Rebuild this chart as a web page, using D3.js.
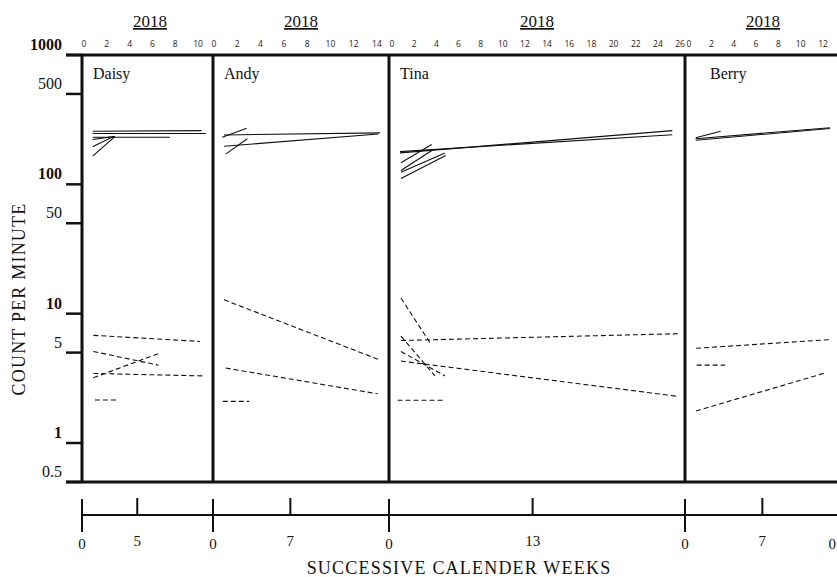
<!DOCTYPE html>
<html><head><meta charset="utf-8">
<script src="https://cdn.jsdelivr.net/npm/d3@7"></script>
<style>body{margin:0;background:#fff}svg{display:block}</style>
</head><body>
<svg id="c" width="837" height="577"></svg>
<script>
// ---------- DATA ----------
const panelNames = ["Daisy", "Andy", "Tina", "Berry"];
const yearLabels = ["2018", "2018", "2018", "2018"];
const topTicks = [
  [0, 2, 4, 6, 8, 10],
  [0, 2, 4, 6, 8, 10, 12, 14],
  [0, 2, 4, 6, 8, 10, 12, 14, 16, 18, 20, 22, 24, 26],
  [0, 2, 4, 6, 8, 10, 12]
];
const bottomMidTicks = [5, 7, 13, 7];
const yTickValues = [1000, 500, 100, 50, 10, 5, 1, 0.5];
const yTickLabels = ["1000", "500", "100", "50", "10", "5", "1", "0.5"];
const yTickBold = [true, false, true, false, true, false, true, false];

// segments: [[week1, count1], [week2, count2]]
const solidDaisy = [
  [[0.76, 257], [10.32, 260]],
  [[0.76, 247], [10.68, 247]],
  [[0.76, 231], [7.54, 231]],
  [[0.76, 222], [2.72, 235]],
  [[0.76, 195], [2.54, 233]],
  [[0.76, 165], [2.63, 231]]
];
const dashedDaisy = [
  [[0.82, 6.8], [10.18, 6.1]],
  [[0.82, 5.1], [6.52, 4.0]],
  [[0.82, 3.2], [6.52, 4.9]],
  [[0.82, 3.45], [10.61, 3.3]],
  [[0.96, 2.15], [2.87, 2.15]]
];
const solidAndy = [
  [[0.71, 231], [2.81, 271]],
  [[0.86, 241], [14.26, 250]],
  [[0.86, 197], [14.12, 245]],
  [[1.03, 172], [2.86, 225]]
];
const dashedAndy = [
  [[0.86, 12.8], [14.2, 4.4]],
  [[1.0, 3.8], [14.06, 2.4]],
  [[0.75, 2.1], [3.03, 2.1]]
];
const solidTina = [
  [[0.72, 175], [25.3, 260]],
  [[0.72, 179], [25.3, 242]],
  [[0.81, 147], [3.58, 203]],
  [[0.81, 128], [3.73, 186]],
  [[0.81, 124], [4.78, 175]],
  [[0.81, 111], [4.85, 167]]
];
const dashedTina = [
  [[0.81, 13.2], [3.52, 5.8]],
  [[0.81, 6.2], [25.84, 7.0]],
  [[0.81, 6.7], [3.88, 3.3]],
  [[0.81, 5.1], [4.78, 3.3]],
  [[0.81, 4.3], [25.7, 2.3]],
  [[0.51, 2.14], [4.72, 2.14]]
];
const solidBerry = [
  [[0.6, 229], [2.84, 257]],
  [[0.6, 225], [12.62, 274]],
  [[0.6, 219], [12.62, 270]]
];
const dashedBerry = [
  [[0.63, 5.4], [12.62, 6.3]],
  [[0.69, 4.0], [3.22, 4.0]],
  [[0.63, 1.77], [12.09, 3.46]]
];
const solidSets = [solidDaisy, solidAndy, solidTina, solidBerry];
const dashedSets = [dashedDaisy, dashedAndy, dashedTina, dashedBerry];

// ---------- LAYOUT ----------
const W = 837, H = 577;
const axisX = 82, topY = 55, botY = 482;
const panelBorders = [82, 213, 389, 685, 840];
const topOrigin = [84, 214, 392, 689];
const topPPU = [11.4, 11.64, 11.08, 11.17];
const botPPU = 11.05;
const serif = "'Liberation Serif','Times New Roman',serif";

const svg = d3.select("#c");
const y = d3.scaleLog().domain([1, 1000]).range([443, 55]);

// y axis ticks
const yg = svg.append("g");
yTickValues.forEach((v, i) => {
  const yy = v === 0.5 ? botY : y(v);
  yg.append("line").attr("x1", 66).attr("x2", axisX).attr("y1", yy).attr("y2", yy)
    .attr("stroke", "#111").attr("stroke-width", 2.5);
  yg.append("text").attr("x", 62).attr("y", yy - 5).attr("text-anchor", "end")
    .attr("font-family", serif).attr("font-size", 16)
    .attr("font-weight", yTickBold[i] ? "bold" : "normal").attr("fill", "#111")
    .text(yTickLabels[i]);
});
svg.append("text").attr("transform", `translate(25,299) rotate(-90)`)
  .attr("text-anchor", "middle").attr("font-family", serif).attr("font-size", 18)
  .attr("letter-spacing", 1.2).attr("fill", "#111").text("COUNT PER MINUTE");

// panels
panelNames.forEach((name, p) => {
  const x0 = topOrigin[p], ppu = topPPU[p];
  const right = panelBorders[p + 1];
  const xs = d3.scaleLinear().domain([0, 1]).range([x0, x0 + ppu]);
  // top tick labels
  topTicks[p].forEach(t => {
    svg.append("text").attr("x", xs(t)).attr("y", 47).attr("text-anchor", "middle")
      .attr("font-family", "'Open Sans',sans-serif").attr("font-size", 8.5).attr("fill", "#222")
      .text(t);
  });
  // year label
  const cx = (panelBorders[p] + Math.min(right, 837)) / 2 + (p === 3 ? 2 : 0);
  svg.append("text").attr("x", p === 0 ? 150 : cx).attr("y", 27).attr("text-anchor", "middle")
    .attr("font-family", serif).attr("font-size", 17).attr("fill", "#111")
    .attr("text-decoration", "underline").text(yearLabels[p]);
  // name
  svg.append("text").attr("x", panelBorders[p] + (p === 3 ? 25 : 11)).attr("y", 79)
    .attr("font-family", serif).attr("font-size", 16).attr("fill", "#111").text(name);
  const line = d3.line().x(d => xs(d[0])).y(d => y(d[1]));
  svg.append("g").selectAll("path").data(solidSets[p]).join("path")
    .attr("d", line).attr("fill", "none").attr("stroke", "#111").attr("stroke-width", 1.1);
  svg.append("g").selectAll("path").data(dashedSets[p]).join("path")
    .attr("d", line).attr("fill", "none").attr("stroke", "#111").attr("stroke-width", 1.1)
    .attr("stroke-dasharray", "5,3");

  // bottom axis ticks
  const xb = d3.scaleLinear().domain([0, 1]).range([panelBorders[p], panelBorders[p] + botPPU]);
  svg.append("line").attr("x1", xb(0)).attr("x2", xb(0)).attr("y1", 499).attr("y2", 532)
    .attr("stroke", "#111").attr("stroke-width", 2);
  svg.append("text").attr("x", xb(0)).attr("y", 549).attr("text-anchor", "middle")
    .attr("font-family", serif).attr("font-size", 15).attr("fill", "#111").text("0");
  const m = bottomMidTicks[p];
  svg.append("line").attr("x1", xb(m)).attr("x2", xb(m)).attr("y1", 498).attr("y2", 515)
    .attr("stroke", "#111").attr("stroke-width", 2);
  svg.append("text").attr("x", xb(m)).attr("y", 546).attr("text-anchor", "middle")
    .attr("font-family", serif).attr("font-size", 15).attr("fill", "#111").text(m);
});
// trailing zero at right edge (kept inside the picture)
svg.append("line").attr("x1", panelBorders[4]).attr("x2", panelBorders[4]).attr("y1", 499).attr("y2", 532)
  .attr("stroke", "#111").attr("stroke-width", 2);
svg.append("text").attr("x", 836).attr("y", 549).attr("text-anchor", "end")
  .attr("font-family", serif).attr("font-size", 15).attr("fill", "#111").text("0");

// frame
svg.append("line").attr("x1", 66).attr("x2", W).attr("y1", topY).attr("y2", topY)
  .attr("stroke", "#111").attr("stroke-width", 3);
svg.append("line").attr("x1", 66).attr("x2", W).attr("y1", botY).attr("y2", botY)
  .attr("stroke", "#111").attr("stroke-width", 3);
panelBorders.slice(0, 4).forEach(b => {
  svg.append("line").attr("x1", b).attr("x2", b).attr("y1", topY).attr("y2", botY)
    .attr("stroke", "#111").attr("stroke-width", 3);
});
svg.append("line").attr("x1", axisX).attr("x2", W).attr("y1", 515).attr("y2", 515)
  .attr("stroke", "#111").attr("stroke-width", 2);
svg.append("text").attr("x", 459).attr("y", 574).attr("text-anchor", "middle")
  .attr("font-family", serif).attr("font-size", 18).attr("letter-spacing", 1.2).attr("fill", "#111")
  .text("SUCCESSIVE CALENDER WEEKS");
</script>
</body></html>
